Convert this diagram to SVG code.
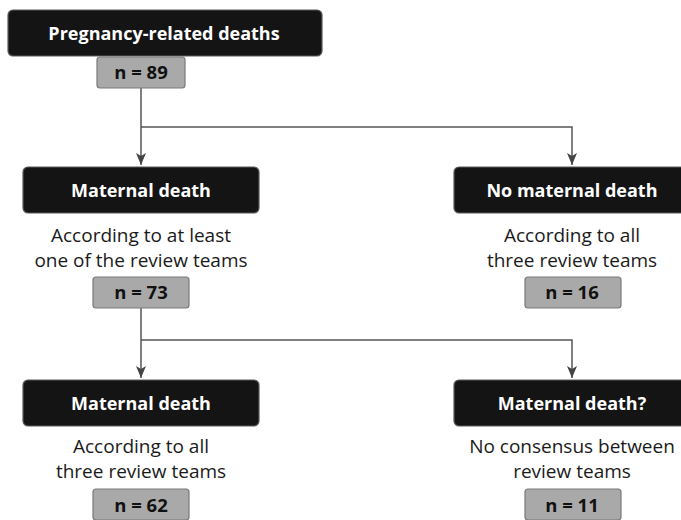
<svg xmlns="http://www.w3.org/2000/svg" width="681" height="520" viewBox="0 0 681 520">
<defs>
<style>
.hdr{fill:#141414;stroke:#5a5a5a;stroke-width:1.2}
.cnt{fill:#a9a9a9;stroke:#7a7a7a;stroke-width:1.2}
.ht{font-family:"Open Sans","Liberation Sans",sans-serif;font-weight:bold;font-size:18px;fill:#fff;text-anchor:middle}
.ct{font-family:"Open Sans","Liberation Sans",sans-serif;font-weight:bold;font-size:18.5px;fill:#111;text-anchor:middle}
.dt{font-family:"Open Sans","Liberation Sans",sans-serif;font-size:19px;fill:#1a1a1a;text-anchor:middle}
.ln{fill:none;stroke:#555;stroke-width:1.5}
</style>
<marker id="ah" viewBox="0 0 12 10" refX="12" refY="5" markerWidth="12" markerHeight="10" markerUnits="userSpaceOnUse" orient="auto">
<path d="M0,0 L12,5 L0,10 L3,5 Z" fill="#444"/>
</marker>
</defs>
<rect width="681" height="520" fill="#fff"/>
<g id="connectors">
<path class="ln" d="M141,88 V165" marker-end="url(#ah)"/>
<path class="ln" d="M141,127 H572 V165" marker-end="url(#ah)"/>
<path class="ln" d="M141,308 V378" marker-end="url(#ah)"/>
<path class="ln" d="M141,340 H572 V378" marker-end="url(#ah)"/>
</g>
<g id="n-pregnancy">
<rect class="hdr" x="8" y="10" width="314" height="46" rx="5"/>
<text class="ht" x="164" y="40">Pregnancy-related deaths</text>
<rect class="cnt" x="97" y="57" width="88" height="31" rx="3"/>
<text class="ct" x="141" y="79">n = 89</text>
</g>
<g id="n-maternal1">
<rect class="hdr" x="23" y="167" width="236" height="46" rx="5"/>
<text class="ht" x="141" y="197">Maternal death</text>
<text class="dt" x="141" y="242">According to at least</text>
<text class="dt" x="141" y="267">one of the review teams</text>
<rect class="cnt" x="93" y="277" width="96" height="31" rx="3"/>
<text class="ct" x="141" y="299">n = 73</text>
</g>
<g id="n-nomaternal">
<rect class="hdr" x="454" y="167" width="236" height="46" rx="5"/>
<text class="ht" x="572" y="197">No maternal death</text>
<text class="dt" x="572" y="242">According to all</text>
<text class="dt" x="572" y="267">three review teams</text>
<rect class="cnt" x="525" y="277" width="96" height="31" rx="3"/>
<text class="ct" x="572" y="299">n = 16</text>
</g>
<g id="n-maternal2">
<rect class="hdr" x="23" y="380" width="236" height="46" rx="5"/>
<text class="ht" x="141" y="410">Maternal death</text>
<text class="dt" x="141" y="453">According to all</text>
<text class="dt" x="141" y="478">three review teams</text>
<rect class="cnt" x="93" y="489" width="96" height="31" rx="3"/>
<text class="ct" x="141" y="512">n = 62</text>
</g>
<g id="n-maternalq">
<rect class="hdr" x="454" y="380" width="236" height="46" rx="5"/>
<text class="ht" x="572" y="410">Maternal death?</text>
<text class="dt" x="572" y="453">No consensus between</text>
<text class="dt" x="572" y="478">review teams</text>
<rect class="cnt" x="525" y="489" width="96" height="31" rx="3"/>
<text class="ct" x="572" y="512">n = 11</text>
</g>
</svg>
